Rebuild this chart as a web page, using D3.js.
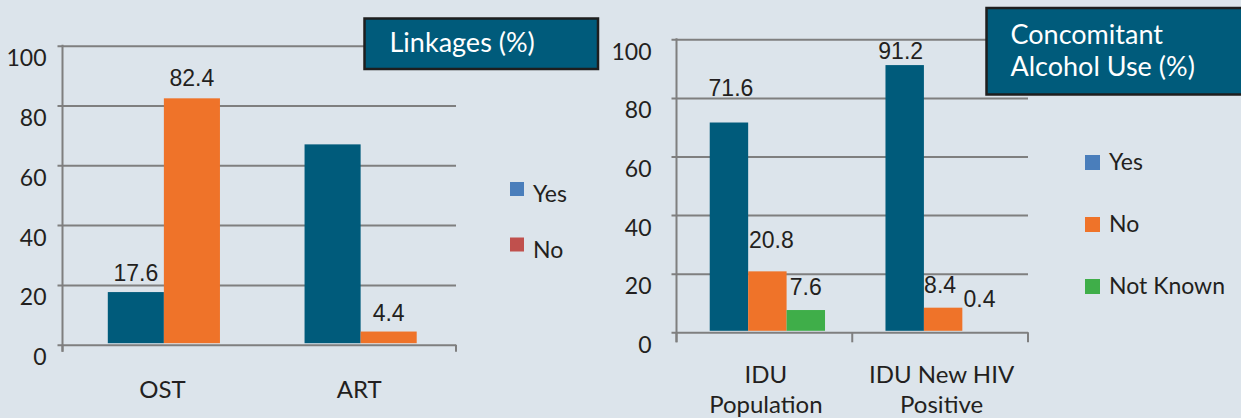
<!DOCTYPE html>
<html>
<head>
<meta charset="utf-8">
<script src="https://cdn.jsdelivr.net/npm/d3@7"></script>
<style>
  body { margin: 0; background: #dce4eb; }
  svg { display: block; }
</style>
</head>
<body>
<svg id="chart" width="1241" height="418"></svg>
<script>
// ---- data ----
const yTicks = [0, 20, 40, 60, 80, 100];

const linkCategories = [["OST"], ["ART"]];
const linkSeries = ["Yes", "No"];
const linkYes = [17.6, 67];
const linkNo = [82.4, 4.4];
const linkShowLabel = [[true, true], [false, true]];

const alcCategories = [["IDU", "Population"], ["IDU New HIV", "Positive"]];
const alcSeries = ["Yes", "No", "Not Known"];
const alcYes = [71.6, 91.2];
const alcNo = [20.8, 8.4];
const alcNotKnown = [7.6, 0.4];
const alcShowLabel = [[true, true, true], [true, true, true]];

// ---- styles ----
const BAR_COLORS = ["#005b7b", "#ef7329", "#3fae49"];
const GRID_COLOR = "#7f7f7f";
const TEXT_COLOR = "#231f20";
const BOX_FILL = "#005b7b";
const SANS = "Lato, 'Open Sans', sans-serif";
const ARIAL = "'Liberation Sans', Arial, sans-serif";

const svg = d3.select("#chart");

function drawChart(o) {
	var x0 = d3.scaleBand()
		.domain(d3.range(o.categories.length))
		.range([o.left, o.right])
		.paddingInner(o.pad)
		.paddingOuter(o.pad / 2);
	var x1 = d3.scaleBand()
		.domain(o.series)
		.range([0, x0.bandwidth()]);
	var y = d3.scaleLinear().domain([0, 100]).range([o.bottom, o.top]);

	var g = svg.append("g");

	// gridlines + y labels
	var yAxis = d3.axisLeft(y)
		.tickValues(yTicks)
		.tickSize(-(o.right - o.left + 5))
		.tickPadding(o.labelGap - 5);
	var ga = g.append("g")
		.attr("transform", "translate(" + (o.left - 5) + ",0)")
		.call(yAxis);
	ga.select(".domain").remove();
	ga.selectAll(".tick line")
		.attr("stroke", GRID_COLOR)
		.attr("stroke-width", 2);
	ga.selectAll(".tick text")
		.attr("dy", null)
		.attr("y", 20)
		.attr("fill", TEXT_COLOR)
		.attr("font-family", SANS)
		.attr("font-size", "23px");

	// vertical axis line
	g.append("line")
		.attr("x1", o.left).attr("x2", o.left)
		.attr("y1", y(100) - 1).attr("y2", y(0) + o.tickLen)
		.attr("stroke", GRID_COLOR).attr("stroke-width", 2);

	// bottom boundary ticks
	o.boundaryTicks.forEach(function(i) {
		var bx = o.left + i * x0.step();
		g.append("line")
			.attr("x1", bx).attr("x2", bx)
			.attr("y1", y(0)).attr("y2", y(0) + o.tickLen)
			.attr("stroke", GRID_COLOR).attr("stroke-width", 2);
	});

	// bars (groups sit a touch right of band centre, as in the original)
	var groups = g.selectAll(".grp")
		.data(o.categories.map(function(c, i) { return i; }))
		.enter().append("g")
		.attr("class", "grp")
		.attr("transform", function(i) { return "translate(" + (x0(i) + o.shift) + ",0)"; });

	groups.selectAll("rect")
		.data(function(i) {
			return o.series.map(function(s, j) {
				return { s: s, j: j, i: i, v: o.values[j][i] };
			});
		})
		.enter().append("rect")
		.attr("x", function(d) { return x1(d.s); })
		.attr("width", x1.bandwidth())
		.attr("y", function(d) { return y(d.v); })
		.attr("height", function(d) { return y(0) - y(d.v) - 1.5; })
		.attr("fill", function(d) { return BAR_COLORS[d.j]; });

	// value labels
	groups.selectAll("text.val")
		.data(function(i) {
			return o.series.map(function(s, j) {
				return { s: s, j: j, i: i, v: o.values[j][i] };
			}).filter(function(d) { return o.showLabel[d.i][d.j]; });
		})
		.enter().append("text")
		.attr("class", "val")
		.attr("x", function(d) { return x1(d.s) + x1.bandwidth() / 2 + o.nudge[d.i][d.j][0]; })
		.attr("y", function(d) { return y(d.v) + o.nudge[d.i][d.j][1]; })
		.attr("text-anchor", "middle")
		.attr("font-family", ARIAL)
		.attr("font-size", "23px")
		.attr("fill", TEXT_COLOR)
		.text(function(d) { return d.v; });

	// category labels
	var cat = g.selectAll("text.cat")
		.data(o.categories)
		.enter().append("text")
		.attr("class", "cat")
		.attr("text-anchor", "middle")
		.attr("font-family", SANS)
		.attr("font-size", "24px")
		.attr("fill", TEXT_COLOR);
	cat.selectAll("tspan")
		.data(function(lines, i) { return lines.map(function(t) { return { t: t, i: i }; }); })
		.enter().append("tspan")
		.attr("x", function(d) { return x0(d.i) + x0.bandwidth() / 2 + o.shift / 2; })
		.attr("y", function(d, k) { return o.catY + k * 30; })
		.text(function(d) { return d.t; });

	// legend
	var lg = g.selectAll(".leg")
		.data(o.series)
		.enter().append("g")
		.attr("class", "leg")
		.attr("transform", function(d, j) { return "translate(" + o.legX + "," + (o.legY + j * o.legStep) + ")"; });
	lg.append("rect")
		.attr("width", o.legBox).attr("height", o.legBox)
		.attr("y", -o.legBox - o.legDrop)
		.attr("fill", function(d, j) { return o.legColors[j]; });
	lg.append("text")
		.attr("x", o.legBox + 9)
		.attr("font-family", SANS)
		.attr("font-size", "23px")
		.attr("fill", TEXT_COLOR)
		.text(function(d) { return d; });

	// title box
	g.append("rect")
		.attr("x", o.box[0]).attr("y", o.box[1])
		.attr("width", o.box[2]).attr("height", o.box[3])
		.attr("fill", BOX_FILL)
		.attr("stroke", "#1e1e1e")
		.attr("stroke-width", 2.5);
	o.title.forEach(function(t, k) {
		g.append("text")
			.attr("x", o.box[0] + o.titleDx)
			.attr("y", o.titleY + k * 32)
			.attr("font-family", SANS)
			.attr("font-size", "27px")
			.attr("fill", "#ffffff")
			.text(t);
	});
}

drawChart({
	categories: linkCategories,
	series: linkSeries,
	values: [linkYes, linkNo],
	showLabel: linkShowLabel,
	nudge: [[[0, -11], [0, -12]], [[0, 0], [0, -11]]],
	left: 62.5, right: 456, top: 45.7, bottom: 344.7,
	pad: 0.43, shift: 3, labelGap: 16, tickLen: 7,
	boundaryTicks: [0, 2],
	catY: 398,
	legX: 510, legY: 202, legStep: 55.5, legBox: 14, legDrop: 6,
	legColors: ["#4a7ebb", "#c0504d"],
	box: [364.5, 18.5, 233.5, 50.5],
	title: ["Linkages (%)"], titleDx: 25, titleY: 52
});

drawChart({
	categories: alcCategories,
	series: alcSeries,
	values: [alcYes, alcNo, alcNotKnown],
	showLabel: alcShowLabel,
	nudge: [[[2, -27], [4, -23], [0, -15]], [[-4, -6], [-3, -15], [-2, -24]]],
	left: 676.5, right: 1028, top: 39.3, bottom: 332.3,
	pad: 0.344, shift: 3, labelGap: 25, tickLen: 10,
	boundaryTicks: [0, 1, 2],
	catY: 383,
	legX: 1085, legY: 170, legStep: 62, legBox: 15, legDrop: 0,
	legColors: ["#4a7ebb", "#ef7329", "#3fae49"],
	box: [986.5, 8, 270, 86.5],
	title: ["Concomitant", "Alcohol Use (%)"], titleDx: 24, titleY: 44
});
</script>
</body>
</html>
